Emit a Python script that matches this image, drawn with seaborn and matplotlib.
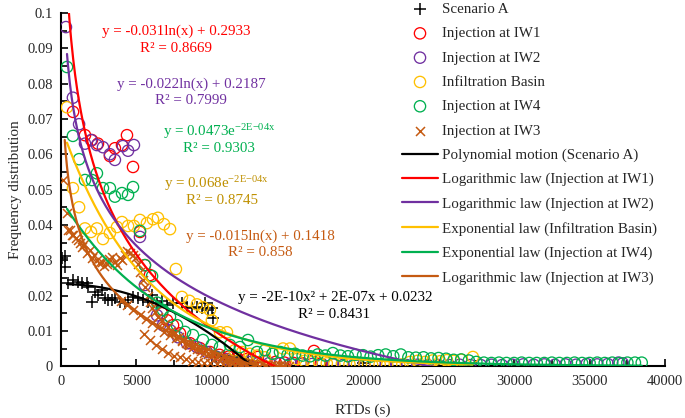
import numpy as np
import matplotlib
matplotlib.use("Agg")
import matplotlib.pyplot as plt
import seaborn as sns
from matplotlib.ticker import MultipleLocator, FuncFormatter

sns.set_style("ticks")
plt.rcParams['font.family'] = ['Liberation Serif', 'DejaVu Serif']
plt.rcParams['mathtext.fontset'] = 'custom'
plt.rcParams['mathtext.rm'] = 'Liberation Serif'
plt.rcParams['mathtext.it'] = 'Liberation Serif:italic'
plt.rcParams['mathtext.default'] = 'regular'

# --- scatter data ---
sa_x = [60, 260, 265, 460, 800, 1130, 1390, 1720, 1790, 2050,
        2250, 2450, 2710, 2910, 3110, 3380, 3570, 3910, 4240, 4440,
        4770, 5100, 5430, 5760, 6030, 6360, 6690, 7020, 7420, 8010,
        8340, 8670, 9000, 9330, 9530, 9730, 9990, 10060, 10260, 10800,
        11390, 11900, 12380, 12640, 20000]
sa_y = [0.0306, 0.0280, 0.0311, 0.0235, 0.0244, 0.0238, 0.0235, 0.0235, 0.0224, 0.0181,
        0.0210, 0.0201, 0.0215, 0.0193, 0.0187, 0.0187, 0.0193, 0.0181, 0.0178, 0.0187,
        0.0195, 0.0193, 0.0187, 0.0181, 0.0201, 0.0178, 0.0185, 0.0173, 0.0180, 0.0178,
        0.0167, 0.0164, 0.0167, 0.0164, 0.0180, 0.0159, 0.0165, 0.0136, 0.0025, 0.0030,
        0.0025, 0.0020, 0.0017, 0.0005, 0.0010]

iw1_x = [800, 1590, 2050, 2450, 3240, 3570, 4040, 4370, 4770, 5230,
         5560, 5890, 6690, 7020, 7420, 7880, 8540, 9200, 9860, 10500,
         11100, 11700, 12300, 13040, 13600, 14200, 14800, 15400, 16000, 16750,
         17200]
iw1_y = [0.0720, 0.0654, 0.0640, 0.0630, 0.0595, 0.0617, 0.0626, 0.0654, 0.0564, 0.0380,
         0.0286, 0.0258, 0.0150, 0.0130, 0.0116, 0.0093, 0.0065, 0.0051, 0.0040, 0.0032,
         0.0027, 0.0022, 0.0020, 0.0026, 0.0015, 0.0012, 0.0010, 0.0009, 0.0008, 0.0043,
         0.0007]

iw2_x = [330, 790, 1200, 1590, 2000, 2380, 2780, 3240, 3570, 4100,
         4440, 4830, 5230, 5560, 6360, 6750, 7220, 7750, 8340, 9000,
         9660, 10330,
         11000, 11700, 12400, 13100, 13800, 14500, 15200, 15900, 16600, 17300,
         18000, 18700, 19400, 20100, 20800, 21500, 22200, 22900, 23600, 24300,
         25000, 25700, 26400, 27100, 27800, 28500, 29200, 29900, 30600, 31300,
         32000, 32700, 33400, 34100, 34800, 35500, 36200, 36900, 37200]
iw2_y = [0.0960, 0.0760, 0.0685, 0.0630, 0.0640, 0.0626, 0.0620, 0.0600, 0.0584, 0.0623,
         0.0610, 0.0626, 0.0366, 0.0230, 0.0144, 0.0116, 0.0102, 0.0082, 0.0065, 0.0054,
         0.0040, 0.0026,
         0.0020, 0.0015, 0.0012, 0.0010, 0.0009, 0.0008, 0.0007, 0.0006, 0.0006, 0.0005,
         0.0005, 0.0004, 0.0005, 0.0004, 0.0004, 0.0003, 0.0004, 0.0003, 0.0004, 0.0003,
         0.0003, 0.0003, 0.0004, 0.0003, 0.0003, 0.0004, 0.0003, 0.0004, 0.0005, 0.0004,
         0.0005, 0.0004, 0.0005, 0.0004, 0.0006, 0.0005, 0.0006, 0.0010, 0.0008]

basin_x = [400, 790, 1200, 1590, 1990, 2380, 2780, 3240, 3710, 4040,
           4440, 4830, 5230, 5690, 6090, 6420, 6820, 7220, 7610, 8010,
           8500, 9000, 9400, 9860, 9990, 10530, 10990, 11500, 12000, 12500,
           13000, 13500, 14000, 14700, 15160, 15600, 16100, 16600, 17100, 17600,
           18100, 18600, 19100, 19600, 20100, 20600, 21100, 21600, 22100, 22600,
           23100, 23600, 24100, 24600, 25100, 25550, 26000, 26500, 27270]
basin_y = [0.0733, 0.0504, 0.0450, 0.0390, 0.0380, 0.0390, 0.0360, 0.0377, 0.0394, 0.0408,
           0.0397, 0.0397, 0.0414, 0.0405, 0.0416, 0.0420, 0.0402, 0.0388, 0.0275, 0.0196,
           0.0185, 0.0175, 0.0167, 0.0159, 0.0130, 0.0096, 0.0096, 0.0045, 0.0040, 0.0035,
           0.0030, 0.0025, 0.0035, 0.0050, 0.0050, 0.0020, 0.0015, 0.0012, 0.0010, 0.0008,
           0.0006, 0.0007, 0.0005, 0.0006, 0.0005, 0.0004, 0.0005, 0.0004, 0.0006, 0.0005,
           0.0012, 0.0015, 0.0012, 0.0016, 0.0014, 0.0017, 0.0015, 0.0018, 0.0026]

iw4_x = [400, 790, 1200, 1590, 2050, 2380, 2780, 3240, 3570, 4040,
         4440, 4770, 5230, 5560, 6030, 6360, 6750, 7220, 7680, 8210,
         8740, 9400, 9990, 10530, 11190, 11850, 12380, 12980,
         13500, 14000, 14500, 15000, 15500, 16000, 16500, 17000, 17500, 18000,
         18500, 19000, 19500, 20000, 20500, 21000, 21500, 22000, 22500, 23000,
         23500, 24000, 24500, 25000, 25500, 26000, 26500, 27000, 27500, 28000,
         28500, 29000, 29500, 30000, 30500, 31000, 31500, 32000, 32500, 33000,
         33500, 34000, 34500, 35000, 35500, 36000, 36500, 37000, 37500, 38000,
         38450]
iw4_y = [0.0847, 0.0652, 0.0586, 0.0527, 0.0527, 0.0546, 0.0504, 0.0504, 0.0480, 0.0490,
         0.0485, 0.0507, 0.0383, 0.0286, 0.0255, 0.0180, 0.0159, 0.0140, 0.0116, 0.0097,
         0.0088, 0.0074, 0.0060, 0.0054, 0.0060, 0.0054, 0.0074, 0.0040,
         0.0045, 0.0035, 0.0040, 0.0032, 0.0035, 0.0030, 0.0028, 0.0033, 0.0030, 0.0037,
         0.0030, 0.0028, 0.0032, 0.0031, 0.0027, 0.0031, 0.0033, 0.0028, 0.0033, 0.0025,
         0.0024, 0.0025, 0.0022, 0.0023, 0.0021, 0.0018, 0.0019, 0.0016, 0.0012, 0.0010,
         0.0009, 0.0010, 0.0009, 0.0009, 0.0010, 0.0009, 0.0009, 0.0009, 0.0010, 0.0009,
         0.0009, 0.0010, 0.0009, 0.0009, 0.0010, 0.0009, 0.0010, 0.0009, 0.0010, 0.0010,
         0.0010]

# IW3 crosses: upper band, band along the fit, band below it
iw3_up_x = [130, 400, 460, 600, 730, 800, 1000, 1130, 1250, 1390,
            1550, 1720, 1900, 2050, 2200, 2380, 2550, 2710, 2880, 3050,
            3200, 3380, 3550, 3710, 3880, 4040, 4240, 4400, 4570, 4740,
            4900, 5070, 5230, 5400, 5560, 5730, 5890, 6060, 6220, 6450,
            6690, 6900, 7080, 7300, 7550, 7800, 8010, 8250, 8500, 8750,
            9000, 9250, 9500, 9750, 10000, 10300, 10600, 10900, 11200, 11500,
            11800, 12100, 12400, 12700, 13000, 13300, 13600, 13900, 14200, 14500,
            14800, 15100]
iw3_up_y = [0.0527, 0.0433, 0.0385, 0.0385, 0.0370, 0.0371, 0.0362, 0.0357, 0.0350, 0.0337,
            0.0345, 0.0320, 0.0328, 0.0306, 0.0315, 0.0300, 0.0292, 0.0295, 0.0285, 0.0290,
            0.0302, 0.0310, 0.0295, 0.0286, 0.0305, 0.0300, 0.0314, 0.0325, 0.0320, 0.0315,
            0.0306, 0.0290, 0.0266, 0.0245, 0.0224, 0.0200, 0.0181, 0.0165, 0.0153, 0.0140,
            0.0130, 0.0120, 0.0110, 0.0100, 0.0093, 0.0083, 0.0074, 0.0066, 0.0060, 0.0053,
            0.0048, 0.0042, 0.0038, 0.0034, 0.0030, 0.0026, 0.0022, 0.0019, 0.0016, 0.0014,
            0.0012, 0.0010, 0.0009, 0.0008, 0.0006, 0.0005, 0.0004, 0.0003, 0.0003, 0.0002,
            0.0002, 0.0001]
iw3_mid_x = [4000, 4400, 4800, 5200, 5600, 6000, 6400, 6800, 7200, 7600,
             8000, 8400, 8800, 9200, 9600, 10000, 10400, 10800, 11200, 11600, 12000]
iw3_mid_y = [0.0185, 0.0172, 0.0160, 0.0145, 0.0133, 0.0122, 0.0110, 0.0098, 0.0088, 0.0079,
             0.0072, 0.0063, 0.0056, 0.0049, 0.0043, 0.0037, 0.0031, 0.0026, 0.0021, 0.0017, 0.0013]
iw3_low_x = [5500, 5900, 6300, 6700, 7100, 7500, 7900, 8300, 8700, 9100,
             9500, 9900, 10300, 10700, 11100, 11500, 11900, 12300, 12700, 13100,
             13500, 13900, 14300, 14700]
iw3_low_y = [0.0090, 0.0075, 0.0060, 0.0048, 0.0038, 0.0030, 0.0025, 0.0020, 0.0016, 0.0013,
             0.0010, 0.0008, 0.0006, 0.0005, 0.0004, 0.0003, 0.0003, 0.0002, 0.0002, 0.0001,
             0.0001, 0.0001, 0.0001, 0.0000]

# --- trend line coefficients (as they appear on the plot) ---
poly_sa = [-1.5e-10, 6e-8, 0.0232]     # a2, a1, a0
log_iw1 = [-0.0304, 0.2905]            # a*ln(x) + b
log_iw2 = [-0.0215, 0.2172]
log_iw3 = [-0.0162, 0.1535]
exp_basin = [0.068, -1.8e-4]           # A*exp(k*x)
exp_iw4 = [0.0473, -1.5e-4]

RED, PURPLE, GOLD, GREEN, BROWN = '#FF0000', '#7030A0', '#FFC000', '#00B050', '#C55A11'

fig = plt.figure(figsize=(6.85, 4.18), dpi=100)
ax = fig.add_axes([0.089, 0.124, 0.882, 0.845])

ms = 66
sns.scatterplot(x=sa_x, y=sa_y, marker='+', s=64, color='black', linewidth=1.1,
                ax=ax, label='Scenario A', zorder=3)
for xs, ys, c, lab in [(iw1_x, iw1_y, RED, 'Injection at IW1'),
                       (iw2_x, iw2_y, PURPLE, 'Injection at IW2'),
                       (basin_x, basin_y, GOLD, 'Infiltration Basin'),
                       (iw4_x, iw4_y, GREEN, 'Injection at IW4')]:
    sns.scatterplot(x=xs, y=ys, marker='o', s=ms, color=c, facecolor='none',
                    edgecolor=c, linewidth=0.95, ax=ax, label=lab, zorder=3)
iw3_x = iw3_up_x + iw3_mid_x + iw3_low_x
iw3_y = iw3_up_y + iw3_mid_y + iw3_low_y
sns.scatterplot(x=iw3_x, y=iw3_y, marker='x', s=42, color=BROWN, linewidth=1.1,
                ax=ax, label='Injection at IW3', zorder=3)

# trend lines
xp = np.linspace(400, 20000, 400)
sns.lineplot(x=xp, y=np.polyval(poly_sa, xp), color='black', linewidth=1.6, ax=ax,
             label='Polynomial motion (Scenario A)', zorder=4)
x1 = np.linspace(300, 17200, 400)
sns.lineplot(x=x1, y=log_iw1[0] * np.log(x1) + log_iw1[1], color=RED, linewidth=1.6,
             ax=ax, label='Logarithmic law (Injection at IW1)', zorder=4)
x2 = np.linspace(400, 37200, 600)
sns.lineplot(x=x2, y=log_iw2[0] * np.log(x2) + log_iw2[1], color=PURPLE, linewidth=1.6,
             ax=ax, label='Logarithmic law (Injection at IW2)', zorder=4)
xb = np.linspace(400, 27270, 400)
sns.lineplot(x=xb, y=exp_basin[0] * np.exp(exp_basin[1] * xb), color=GOLD, linewidth=1.6,
             ax=ax, label='Exponential law (Infiltration Basin)', zorder=4)
x4 = np.linspace(400, 38450, 600)
sns.lineplot(x=x4, y=exp_iw4[0] * np.exp(exp_iw4[1] * x4), color=GREEN, linewidth=1.6,
             ax=ax, label='Exponential law (Injection at IW4)', zorder=4)
x3 = np.linspace(250, 15100, 400)
sns.lineplot(x=x3, y=log_iw3[0] * np.log(x3) + log_iw3[1], color=BROWN, linewidth=1.6,
             ax=ax, label='Logarithmic law (Injection at IW3)', zorder=4)

ax.set_xlim(0, 40000)
ax.set_ylim(0, 0.1)
ax.xaxis.set_major_locator(MultipleLocator(5000))
ax.xaxis.set_minor_locator(MultipleLocator(2500))
ax.yaxis.set_major_locator(MultipleLocator(0.01))
ax.yaxis.set_minor_locator(MultipleLocator(0.005))
ax.yaxis.set_major_formatter(FuncFormatter(lambda v, p: f"{v:g}"))
ax.xaxis.set_major_formatter(FuncFormatter(lambda v, p: f"{v:g}"))
ax.tick_params(which='both', direction='in', width=1.2, labelsize=10.5, color='black')
ax.tick_params(which='major', length=5, pad=6)
ax.tick_params(which='minor', length=4)
sns.despine(ax=ax)
for sp in ['left', 'bottom']:
    ax.spines[sp].set_linewidth(1.5)
    ax.spines[sp].set_color('black')
ax.set_xlabel('RTDs (s)', fontsize=11)
ax.set_ylabel('Frequency distribution', fontsize=11)
ax.xaxis.set_label_coords(0.5, -0.105)
ax.yaxis.set_label_coords(-0.064, 0.5)

h, l = ax.get_legend_handles_labels()
ax.legend(h, l, loc='upper left', bbox_to_anchor=(402 / 685, 1 - 2.5 / 418),
          bbox_transform=fig.transFigure, frameon=False, fontsize=10.8,
          handlelength=2.4, handletextpad=0.25, labelspacing=0.72,
          borderpad=0, borderaxespad=0, scatterpoints=1)

def eq(x, y, s, c):
    fig.text(x / 685, 1 - y / 418, s, color=c, fontsize=10.8, ha='center', va='center')

eq(176, 31, 'y = -0.031ln(x) + 0.2933', RED)
eq(176, 49, 'R² = 0.8669', RED)
eq(191, 84, 'y = -0.022ln(x) + 0.2187', PURPLE)
eq(191, 101, 'R² = 0.7999', PURPLE)
eq(219, 132, r'y = 0.0473e$^{\mathregular{{-}2E{-}04x}}$', GREEN)
eq(219, 149, 'R² = 0.9303', GREEN)
eq(217, 184, r'y = 0.068e$^{\mathregular{{-}2E{-}04x}}$', '#BF9000')
eq(222, 201, 'R² = 0.8745', '#BF9000')
eq(260, 236, 'y = -0.015ln(x) + 0.1418', BROWN)
eq(260, 253, 'R² = 0.858', BROWN)
eq(335, 298, 'y = -2E-10x² + 2E-07x + 0.0232', 'black')
eq(334, 315, 'R² = 0.8431', 'black')

fig.savefig('out.png', dpi=100)
